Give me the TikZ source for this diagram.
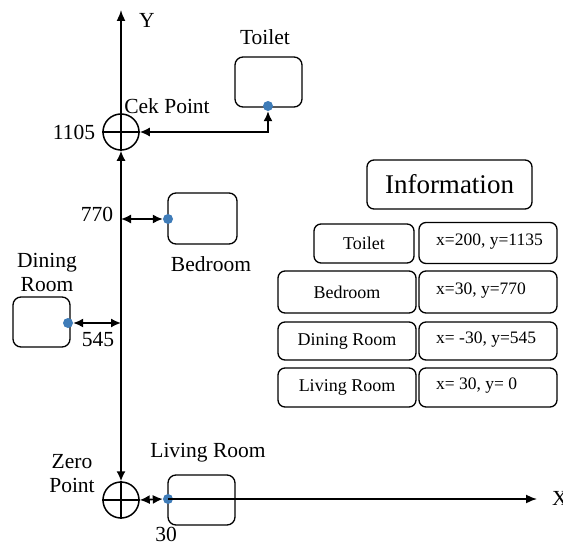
\documentclass[tikz,border=0pt]{standalone}
\usepackage{fontspec}
\setmainfont{Liberation Serif}
\usetikzlibrary{arrows.meta}
\definecolor{dotblue}{HTML}{3F7CB8}
\tikzset{
  room/.style={draw, line width=1.3pt, rounded corners=8pt},
  infobox/.style={draw, line width=1.3pt, rounded corners=7pt},
  lbl/.style={font=\fontsize{21.5}{24}\selectfont, align=center, inner sep=0pt},
  tbl/.style={font=\fontsize{18}{20}\selectfont, inner sep=0pt},
  val/.style={font=\fontsize{17.5}{20}\selectfont, inner sep=0pt},
  axis/.style={line width=1.6pt},
  link/.style={line width=1.6pt, {Latex[length=10pt,width=9pt]}-{Latex[length=10pt,width=9pt]}},
  tip/.style={-{Latex[length=11pt,width=9pt]}},
  spot/.style={circle, fill=dotblue, minimum size=10pt, inner sep=0pt},
  marker/.style={circle, draw, line width=1.5pt, minimum size=36pt, inner sep=0pt}
}
\begin{document}
\begin{tikzpicture}[x=1pt, y=-1pt]
\useasboundingbox (0,0) rectangle (563,543);

% reference markers (circles with crosshair)
\node[marker] (cek) at (121,132) {};
\node[marker] (zero) at (121,500) {};
\draw[line width=1.3pt] (cek.west) -- (cek.east) (cek.north) -- (cek.south);
\draw[line width=1.3pt] (zero.west) -- (zero.east) (zero.north) -- (zero.south);

% axes
\coordinate (ytop) at (121,10);
\coordinate (xend) at (537,499);
\draw[axis, tip] (cek.north) -- (ytop);
\draw[link] (zero.north) -- (cek.south);

% rooms
\node[room, minimum width=67pt, minimum height=50pt] (toilet) at (268.5,82) {};
\node[room, minimum width=69pt, minimum height=51pt] (bed) at (202.5,218.5) {};
\node[room, minimum width=57pt, minimum height=50pt] (dining) at (41.5,322) {};
\node[room, minimum width=67pt, minimum height=50pt] (living) at (201.5,500) {};

% room reference points
\node[spot] (pt) at (268,106) {};
\node[spot] (pb) at (168,219) {};
\node[spot] (pd) at (68,323) {};
\node[spot] (pl) at (168,499) {};

\coordinate (bedaxis) at (121,219);
\coordinate (dinaxis) at (121,323);
\coordinate (bend) at (268,132);

% connectors
\draw[link] (pt.south) -- (bend) -- (cek.east);
\draw[link] (bedaxis) -- (pb.west);
\draw[link] (pd.east) -- (dinaxis);
\draw[link] (zero.east) -- (pl.west);
\draw[axis, tip] (pl.center) -- (xend);

% labels
\node[lbl] (ylab) at (147,20) {Y};
\node[lbl, anchor=west] (xlab) at (552,498) {X};
\node[lbl] (ltoilet) at (265,37) {Toilet};
\node[lbl] (lcek) at (167,106) {Cek Point};
\node[lbl] (l1105) at (74,132) {1105};
\node[lbl] (l770) at (97,214) {770};
\node[lbl] (lbed) at (211,264) {Bedroom};
\node[lbl] (ldin) at (47,272) {Dining\\Room};
\node[lbl] (l545) at (98,340) {545};
\node[lbl] (lzero) at (72,474) {Zero\\Point};
\node[lbl] (lliving) at (208,453) {Living Room};
\node[lbl] (l30) at (166,534) {30};

% information table
\node[infobox, minimum width=165pt, minimum height=49pt,
      font=\fontsize{27}{30}\selectfont] (info) at (449.5,184.5) {Information};

\node[infobox, minimum width=100pt, minimum height=39pt, tbl] (kt) at (364,243.5) {Toilet};
\node[infobox, minimum width=138pt, minimum height=42pt, tbl] (kb) at (347,292) {Bedroom};
\node[infobox, minimum width=138pt, minimum height=38pt, tbl] (kd) at (347,341) {Dining Room};
\node[infobox, minimum width=138pt, minimum height=39pt, tbl] (kl) at (347,387.5) {Living Room};

\node[infobox, minimum width=138pt, minimum height=41pt] (vt) at (488,243) {};
\node[infobox, minimum width=138pt, minimum height=42pt] (vb) at (488,292) {};
\node[infobox, minimum width=138pt, minimum height=38pt] (vd) at (488,341) {};
\node[infobox, minimum width=138pt, minimum height=39pt] (vl) at (488,387.5) {};

\node[val, anchor=west] (tvt) at (436,242) {x=200, y=1135};
\node[val, anchor=west] (tvb) at (436,291) {x=30, y=770};
\node[val, anchor=west] (tvd) at (436,340) {x= -30, y=545};
\node[val, anchor=west] (tvl) at (436,386) {x= 30, y= 0};
\end{tikzpicture}
\end{document}
